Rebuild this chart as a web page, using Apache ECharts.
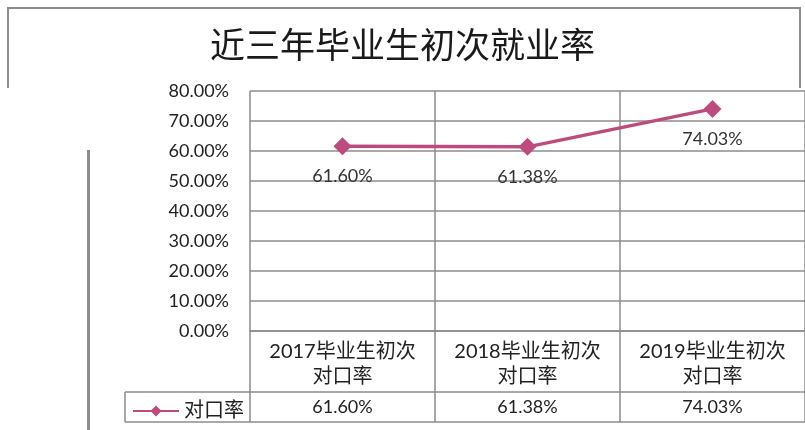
<!DOCTYPE html>
<html>
<head>
<meta charset="utf-8">
<script src="https://cdn.jsdelivr.net/npm/echarts@6/dist/echarts.min.js"></script>
<style>
  html, body { margin: 0; padding: 0; background: #fff; }
  #chart { width: 805px; height: 430px; }
</style>
</head>
<body>
<div id="chart"></div>
<script>
// 数据
const chartTitle = "近三年毕业生初次就业率";
const categories = ["2017毕业生初次\n对口率", "2018毕业生初次\n对口率", "2019毕业生初次\n对口率"];
const seriesName = "对口率";
const rateValues = [0.616, 0.6138, 0.7403];
const yMin = 0;
const yMax = 0.8;
const yStep = 0.1;

const fontFamily = "Lato, 'Noto Sans CJK SC', sans-serif";
const lineColor = "#BE4B7E";
const gridColor = "#8c8c8c";

const pct = v => (v * 100).toFixed(2) + "%";

const myChart = echarts.init(document.getElementById("chart"), null, { renderer: "canvas" });

// 表格横线 / 图例单元格
const tableLeft = 125;
const tableRight = 815;
const rowMid = 392;
const rowBottom = 422;

const option = {
  animation: false,
  backgroundColor: "#fff",
  title: {
    text: chartTitle,
    left: "center",
    top: 22,
    textStyle: {
      fontFamily: "'Noto Sans CJK SC', sans-serif",
      fontSize: 35,
      fontWeight: "normal",
      color: "#1a1a1a"
    }
  },
  legend: {
    data: [seriesName],
    left: 127,
    top: 396,
    itemWidth: 46,
    itemHeight: 14,
    itemGap: 4,
    textStyle: { fontFamily, fontSize: 20, color: "#222" }
  },
  grid: {
    left: 250,
    right: -9,
    top: 91,
    bottom: 99,
    containLabel: false
  },
  xAxis: [
    {
      type: "category",
      data: categories,
      boundaryGap: true,
      axisLine: { lineStyle: { color: gridColor, width: 1.5 } },
      axisTick: { show: true, length: 91, interval: 0, lineStyle: { color: gridColor, width: 1.5 } },
      splitLine: { show: true, interval: 0, lineStyle: { color: gridColor, width: 1.5 } },
      axisLabel: {
        interval: 0,
        margin: 8,
        fontFamily,
        fontSize: 20,
        lineHeight: 25,
        color: "#222"
      }
    },
    {
      type: "category",
      data: rateValues.map(pct),
      position: "bottom",
      offset: 58,
      axisLine: { show: false },
      axisTick: { show: false },
      axisLabel: { interval: 0, margin: 9, fontFamily, fontSize: 18, color: "#222" }
    }
  ],
  yAxis: {
    type: "value",
    min: yMin,
    max: yMax,
    interval: yStep,
    axisLine: { show: false },
    axisTick: { show: false },
    splitLine: { lineStyle: { color: gridColor, width: 1.5 } },
    axisLabel: {
      margin: 21,
      fontFamily,
      fontSize: 18,
      color: "#222",
      formatter: v => pct(v)
    }
  },
  series: [
    {
      name: seriesName,
      type: "line",
      data: rateValues,
      symbol: "diamond",
      symbolSize: 18,
      itemStyle: { color: lineColor },
      lineStyle: { color: lineColor, width: 3.5 },
      label: {
        show: true,
        position: "bottom",
        distance: 12,
        fontFamily,
        fontSize: 18,
        color: "#333",
        formatter: p => pct(p.value)
      }
    }
  ],
  graphic: [
    // 外框
    { type: "polyline", shape: { points: [[8, 88], [8, 8], [800, 8], [800, 88]] }, style: { stroke: "#8c8c8c", lineWidth: 2, fill: null } },
    // 数据表
    { type: "line", shape: { x1: tableLeft, y1: rowMid, x2: tableRight, y2: rowMid }, style: { stroke: gridColor, lineWidth: 1.5 } },
    { type: "line", shape: { x1: tableLeft, y1: rowBottom, x2: tableRight, y2: rowBottom }, style: { stroke: gridColor, lineWidth: 1.5 } },
    { type: "line", shape: { x1: tableLeft, y1: rowMid, x2: tableLeft, y2: rowBottom }, style: { stroke: gridColor, lineWidth: 1.5 } },
    // 左侧竖条
    { type: "rect", shape: { x: 87, y: 150, width: 3, height: 280 }, style: { fill: "#8c8c8c" } }
  ]
};

myChart.setOption(option);
</script>
</body>
</html>
